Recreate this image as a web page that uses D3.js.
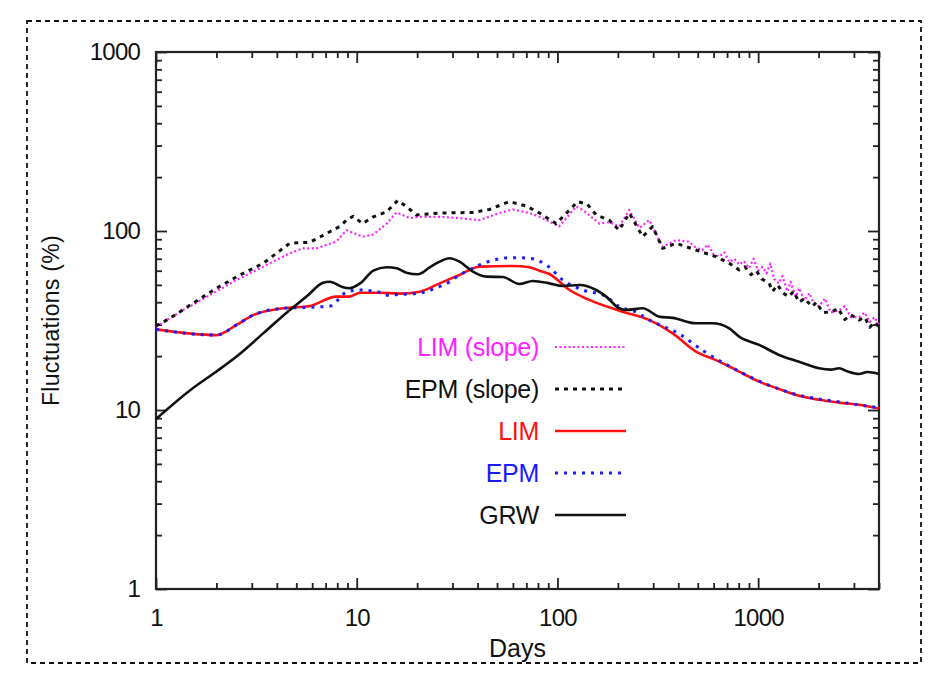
<!DOCTYPE html>
<html>
<head>
<meta charset="utf-8">
<script src="https://cdn.jsdelivr.net/npm/d3@7"></script>
<style>
	body{margin:0;background:#fff;}
	svg{display:block;font-family:'Liberation Sans',Arial,sans-serif;}
</style>
</head>
<body>
<svg id="chart" width="928" height="680"></svg>
<script>
// values (days, % fluctuation)
const grwDays = [1, 1.48, 2, 2.52, 3.42, 4.64, 5.62, 6.8, 7.34, 8.55, 9.2, 10.4, 12.1, 14.1, 15.8, 17.7, 20.2, 23.1, 25.9, 29, 32.5, 37.9, 44.2, 53.5, 64.7, 75.4, 91.2, 106, 129, 156, 175, 203, 220, 266, 322, 375, 490, 593, 718, 804, 1012, 1271, 1600, 2010, 2300, 2530, 2800, 3180, 3500, 4000]
const grw = [8.9, 12.9, 16.4, 19.9, 26.8, 36.2, 43, 51.4, 52.1, 48.5, 47.9, 51, 60, 62.7, 62, 58.5, 57.3, 62.7, 67.4, 70.4, 67.4, 59.3, 55.6, 55.3, 50.6, 52.6, 51, 49.3, 49.9, 46.8, 43, 37, 36.2, 37, 33.2, 32.7, 30.5, 30.5, 28.6, 25.7, 23.1, 20.3, 18.6, 17.1, 16.8, 17.1, 16.4, 15.9, 16.3, 15.9]

const limDays = [1, 2, 2.52, 3.05, 4.3, 5.84, 7.9, 9.2, 10.4, 13, 16.4, 20.6, 25.9, 32.5, 40.9, 59.9, 72.6, 81.4, 91.2, 115, 144, 211, 287, 375, 490, 616, 718, 804, 1012, 1271, 1600, 2010, 2530, 3180, 4000]
const lim = [28.2, 26.2, 29.9, 33.9, 37, 38.1, 43, 43, 45.2, 45.2, 44.7, 45.8, 51, 56.8, 63.2, 63.7, 62.7, 60, 57.5, 46.8, 41.2, 35.4, 31.8, 26.8, 21.2, 19, 17.5, 16.4, 14.4, 13.1, 12, 11.4, 11, 10.7, 10.2]

const epmDays = [1, 2, 2.52, 3.05, 4.3, 5.84, 7.34, 8.23, 8.9, 10.4, 12.5, 14.1, 16.4, 20.6, 25.9, 29, 32.5, 37, 40.9, 50, 59.9, 72.6, 91.2, 106, 134, 175, 203, 245, 287, 400, 540, 718, 1012, 1600, 2530, 4000]
const epm = [28.2, 26.2, 29.9, 33.9, 37, 37.5, 38, 42.1, 45.8, 46.8, 46, 43.8, 44.2, 45, 49, 52, 56.8, 61, 64.6, 69.5, 71, 70.4, 62.7, 53.3, 46.8, 43, 37.8, 35.4, 31.8, 26.8, 21.2, 17.6, 14.5, 12.1, 11.1, 10.3]

const limSlopeDays = [1, 1.37, 1.86, 2.52, 3.42, 4.64, 5.4, 6.3, 7.9, 8.9, 10.7, 12.1, 14.1, 15.8, 18.4, 20.6, 25.9, 32.5, 40.9, 51.4, 59.9, 72.6, 81.4, 102, 124, 134, 162, 181, 203, 228, 256, 287, 334, 390, 454, 480, 528, 560, 600, 640, 680, 718, 760, 804, 850, 900, 950, 1000, 1052, 1100, 1150, 1200, 1271, 1320, 1400, 1450, 1540, 1600, 1700, 1800, 1900, 2010, 2150, 2300, 2530, 2700, 2900, 3180, 3400, 3600, 3800, 4000]
const limSlope = [29.2, 36.2, 43.9, 53.3, 63.2, 75, 80, 80, 87.2, 101, 93, 95.6, 110, 127, 118, 120, 120, 118, 115, 126, 132, 126, 120, 106, 137, 131, 110, 112, 106, 131, 104, 115, 81.7, 89, 87, 82, 78, 84, 74, 72, 76, 67, 70, 65, 68, 62, 70, 60, 63, 58, 66, 54, 51, 56, 46, 52, 43, 48, 41, 45, 39, 38, 42, 35, 36, 38, 33, 33, 35, 31, 33, 30]

const epmSlopeDays = [1, 1.17, 1.53, 2, 2.62, 3.42, 4.64, 5.84, 7.34, 8.23, 8.9, 9.6, 10.7, 12.1, 14.1, 16, 17.7, 19.8, 25.9, 37.9, 45.9, 57.7, 69.8, 81.4, 98.5, 115, 126, 141, 156, 181, 203, 228, 266, 298, 334, 390, 490, 616, 718, 804, 860, 920, 980, 1040, 1135, 1180, 1250, 1330, 1420, 1500, 1600, 1700, 1860, 1950, 2100, 2340, 2500, 2700, 2900, 3180, 3400, 3600, 3800, 4000]
const epmSlope = [29.5, 32.5, 39.5, 47.9, 56.8, 66, 85.4, 86.5, 99, 106, 115, 121, 110, 120, 128, 148, 137, 123, 126, 127, 132, 146, 138, 126, 110, 131, 146, 141, 123, 115, 101, 126, 93, 106, 80, 85.4, 78.3, 71.9, 66, 60.6, 63, 57, 60, 54, 51, 46, 50, 45, 43, 46, 40, 42, 37.8, 40, 35, 35.4, 37, 32, 34, 31.8, 33, 29, 31, 29.2]

const xMajor = [1, 10, 100, 1000]
const yMajor = [1, 10, 100, 1000]

const series = [
	{name:'LIM (slope)', days:limSlopeDays, values:limSlope, color:'#ff22ff', width:2.2, dash:'2,2.5', curve:d3.curveLinear},
	{name:'EPM (slope)', days:epmSlopeDays, values:epmSlope, color:'#111', width:3, dash:'4,5', curve:d3.curveLinear},
	{name:'LIM', days:limDays, values:lim, color:'#ff1010', width:2.6, dash:null, curve:d3.curveMonotoneX},
	{name:'EPM', days:epmDays, values:epm, color:'#1a1aff', width:3, dash:'3,6', curve:d3.curveMonotoneX},
	{name:'GRW', days:grwDays, values:grw, color:'#111', width:2.6, dash:null, curve:d3.curveMonotoneX},
]
const legendColors = ['#ff22ff', '#111', '#ff1010', '#1a1aff', '#111']

let plot = {left:156, right:879, top:52, bottom:589}

const svg = d3.select('#chart')

// dashed frame round the figure
svg.append('rect')
	.attr('x',27).attr('y',21)
	.attr('width',894).attr('height',642)
	.attr('fill','none')
	.attr('stroke','#111')
	.attr('stroke-width',1.8)
	.attr('stroke-dasharray','5,4')

const xScale = d3.scaleLog().domain([1,4000]).range([plot.left,plot.right])
const yScale = d3.scaleLog().domain([1,1000]).range([plot.bottom,plot.top])

const xMinor = xScale.ticks().filter(t => !xMajor.includes(t))
const yMinor = yScale.ticks().filter(t => !yMajor.includes(t))

const axisStyle = (g)=>{
	g.select('.domain').remove()
	g.selectAll('line').attr('stroke','#222').attr('stroke-width',1.8)
	g.selectAll('text')
		.attr('font-size','24px')
		.attr('fill','#111')
		.attr('font-family',"'Liberation Sans',Arial,sans-serif")
		.attr('letter-spacing','-0.8')
}

// bottom + top
svg.append('g').attr('transform',`translate(0,${plot.bottom})`)
	.call(d3.axisBottom(xScale).tickValues(xMajor).tickSize(-11).tickPadding(20).tickFormat(d3.format('d')))
	.call(axisStyle)
svg.append('g').attr('transform',`translate(0,${plot.bottom})`)
	.call(d3.axisBottom(xScale).tickValues(xMinor).tickSize(-6).tickFormat(''))
	.call(axisStyle)
svg.append('g').attr('transform',`translate(0,${plot.top})`)
	.call(d3.axisTop(xScale).tickValues(xMajor).tickSize(-11).tickFormat(''))
	.call(axisStyle)
svg.append('g').attr('transform',`translate(0,${plot.top})`)
	.call(d3.axisTop(xScale).tickValues(xMinor).tickSize(-6).tickFormat(''))
	.call(axisStyle)

// left + right
svg.append('g').attr('transform',`translate(${plot.left},0)`)
	.call(d3.axisLeft(yScale).tickValues(yMajor).tickSize(-11).tickPadding(16).tickFormat(d3.format('d')))
	.call(axisStyle)
svg.append('g').attr('transform',`translate(${plot.left},0)`)
	.call(d3.axisLeft(yScale).tickValues(yMinor).tickSize(-6).tickFormat(''))
	.call(axisStyle)
svg.append('g').attr('transform',`translate(${plot.right},0)`)
	.call(d3.axisRight(yScale).tickValues(yMajor).tickSize(-11).tickFormat(''))
	.call(axisStyle)
svg.append('g').attr('transform',`translate(${plot.right},0)`)
	.call(d3.axisRight(yScale).tickValues(yMinor).tickSize(-6).tickFormat(''))
	.call(axisStyle)

// plot border
svg.append('rect')
	.attr('x',plot.left).attr('y',plot.top)
	.attr('width',plot.right - plot.left).attr('height',plot.bottom - plot.top)
	.attr('fill','none')
	.attr('stroke','#222')
	.attr('stroke-width',2.2)

// curves
const lines = svg.append('g')
for(let s of series){
	let line = d3.line()
		.x(d => xScale(d[0]))
		.y(d => yScale(d[1]))
		.curve(s.curve)
	lines.append('path')
		.datum(d3.zip(s.days,s.values))
		.attr('d',line)
		.attr('fill','none')
		.attr('stroke',s.color)
		.attr('stroke-width',s.width)
		.attr('stroke-dasharray',s.dash)
		.attr('stroke-linejoin','round')
}

// legend
const legend = svg.append('g')
series.forEach((s,i)=>{
	let ly = 347 + i * 42
	legend.append('text')
		.text(s.name)
		.attr('x',539)
		.attr('y',ly + 9)
		.attr('text-anchor','end')
		.attr('font-size','25px')
		.attr('letter-spacing','-0.3')
		.attr('fill',legendColors[i])
	legend.append('line')
		.attr('x1',555).attr('x2',626)
		.attr('y1',ly).attr('y2',ly)
		.attr('stroke',s.color)
		.attr('stroke-width',s.width)
		.attr('stroke-dasharray',s.dash)
})

// axis titles
svg.append('text')
	.text('Days')
	.attr('x',(plot.left + plot.right) / 2)
	.attr('y',657)
	.attr('text-anchor','middle')
	.attr('font-size','25px')
	.attr('fill','#111')

svg.append('text')
	.text('Fluctuations (%)')
	.attr('transform',`translate(59,${(plot.top + plot.bottom) / 2}) rotate(-90)`)
	.attr('text-anchor','middle')
	.attr('font-size','23px')
	.attr('letter-spacing','0.3')
	.attr('fill','#111')
</script>
</body>
</html>
